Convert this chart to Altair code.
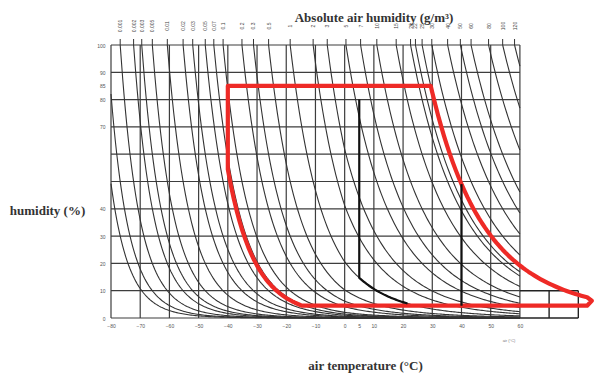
import numpy as np
import pandas as pd
import altair as alt

# ---- data ----
# absolute humidity isolines (g/m3) labelled along the top
ah_values = [0.0003, 0.0005, 0.001, 0.002, 0.003, 0.005, 0.01, 0.02, 0.03, 0.05,
             0.07, 0.1, 0.2, 0.3, 0.5, 1, 2, 3, 5, 7, 10, 15, 20, 22, 25, 30,
             40, 50, 60, 80, 100, 120]
x_ticks = [-80, -70, -60, -50, -40, -30, -20, -10, 0, 5, 10, 20, 30, 40, 50, 60]
x_grid = [-80, -70, -60, -50, -40, -30, -20, -10, 0, 10, 20, 30, 40, 50, 60]
y_ticks = [0, 10, 20, 30, 40, 70, 80, 85, 90, 100]
y_grid = [0, 10, 20, 30, 40, 50, 60, 70, 80, 90, 100]

# red operating envelope
red_top_rh = 85
red_left_t = -40
red_bottom_rh = 4.5
red_right_ah = 25      # isoline followed on the right side
red_left_ah = 0.065    # isoline followed on the lower-left side
red_right_end_t = 83

# black markers
black1_t, black1_top_rh, black1_ah = 5, 80, 1
black2_t = 40

# extension box beyond 60 degC: (x, x2, y, y2)
box_x = [60, 60, 70, 80]
box_x2 = [80, 80, 70, 80]
box_y = [10, 0, 0, 0]
box_y2 = [10, 0, 10, 10]


def sat_ah(t):
    t = np.asarray(t, dtype=float)
    e = np.where(t < 0, 6.112 * np.exp(22.46 * t / (272.62 + t)),
                 6.112 * np.exp(17.62 * t / (243.12 + t)))
    return 216.7 * e / (273.15 + t)


def t_at(ah, rh):
    target = ah * 100.0 / rh
    lo, hi = -120.0, 120.0
    for _ in range(60):
        mid = (lo + hi) / 2
        if sat_ah(mid) < target:
            lo = mid
        else:
            hi = mid
    return (lo + hi) / 2


# isolines
rows, lab = [], []
for i, ah in enumerate(ah_values):
    t0 = t_at(ah, 100)
    start = max(t0, -80)
    ts = np.concatenate([[start], np.arange(np.ceil(start * 2) / 2 + 0.5, 60.001, 0.5)])
    rh = 100 * ah / sat_ah(ts)
    for k, (t, r) in enumerate(zip(ts, rh)):
        rows.append({"curve": i, "T": float(t), "RH": float(min(r, 100)), "o": k})
    if t0 >= -80:
        lab.append({"T": t0, "label": f"{ah:g}"})
curves = pd.DataFrame(rows)
labels = pd.DataFrame(lab)

# red path
pts = [(red_left_t, red_top_rh)]
t85 = t_at(red_right_ah, red_top_rh)
for t in np.concatenate([[t85], np.arange(np.ceil(t85), red_right_end_t + 0.01, 1.0)]):
    pts.append((float(t), float(100 * red_right_ah / sat_ah(t))))
pts.append((red_right_end_t + 1.6, red_bottom_rh + 1.8))
pts.append((red_right_end_t, red_bottom_rh))
tl = t_at(red_left_ah, red_bottom_rh)
pts.append((tl, red_bottom_rh))
for t in np.arange(np.floor(tl), red_left_t - 0.01, -1.0):
    pts.append((float(t), float(100 * red_left_ah / sat_ah(t))))
pts.append((red_left_t, red_top_rh))
red = pd.DataFrame([{"T": a, "RH": b, "o": k} for k, (a, b) in enumerate(pts)])

# black paths
b = [{"g": 0, "T": black1_t, "RH": black1_top_rh, "o": 0}]
tend = t_at(black1_ah, 5.2)
for k, t in enumerate(np.arange(black1_t, tend + 0.01, 0.5)):
    b.append({"g": 0, "T": float(t), "RH": float(100 * black1_ah / sat_ah(t)), "o": k + 1})
b.append({"g": 1, "T": black2_t, "RH": float(100 * red_right_ah / sat_ah(black2_t)), "o": 0})
b.append({"g": 1, "T": black2_t, "RH": red_bottom_rh, "o": 1})
black = pd.DataFrame(b)

xs = alt.Scale(domain=[-80, 84], nice=False, zero=False)
ys = alt.Scale(domain=[0, 100], nice=False, zero=False)
GRID = "#3d3d3d"

x_axis = alt.Axis(values=x_ticks, grid=False, domain=False, ticks=False,
                  labelPadding=5, labelFlush=False,
                  title="air temperature (°C)",
                  titleX=254, titleY=47, titleAnchor="middle", titleBaseline="middle")
y_axis = alt.Axis(values=y_ticks, grid=False, domain=False, ticks=False,
                  labelPadding=6, labelFlush=False,
                  title="humidity (%)", titleAngle=0,
                  titleX=-64, titleY=165, titleAlign="center", titleBaseline="middle")

vgrid = alt.Chart(pd.DataFrame({"T": x_grid})).mark_rule(color=GRID, strokeWidth=1.2).encode(
    x=alt.X("T:Q", scale=xs, axis=x_axis), y=alt.datum(0, scale=ys, axis=y_axis), y2=alt.datum(100))
hgrid = alt.Chart(pd.DataFrame({"RH": y_grid})).mark_rule(color=GRID, strokeWidth=1.2).encode(
    y=alt.Y("RH:Q", scale=ys, axis=y_axis), x=alt.datum(-80, axis=x_axis), x2=alt.datum(60))
box = alt.Chart(pd.DataFrame({"x": box_x, "x2": box_x2, "y": box_y, "y2": box_y2})).mark_rule(
    color="#222", strokeWidth=1.4).encode(x=alt.X("x:Q", axis=x_axis), x2="x2:Q",
                                          y=alt.Y("y:Q", axis=y_axis), y2="y2:Q")
lines = alt.Chart(curves).mark_line(color="#333", strokeWidth=1.1).encode(
    x=alt.X("T:Q", axis=x_axis), y=alt.Y("RH:Q", axis=y_axis), detail="curve:N", order="o:Q")
topticks = alt.Chart(labels).mark_rule(color="#333", strokeWidth=1).encode(
    x=alt.X("T:Q", axis=x_axis), y=alt.value(-6), y2=alt.value(0))
toplab = alt.Chart(labels).mark_text(angle=270, fontSize=5, color="#444", align="center",
                                     baseline="middle").encode(
    x=alt.X("T:Q", axis=x_axis), y=alt.value(-19), text="label:N")
redl = alt.Chart(red).mark_line(color="#ee2a26", strokeWidth=4.2, strokeJoin="round",
                                strokeCap="round").encode(
    x=alt.X("T:Q", axis=x_axis), y=alt.Y("RH:Q", axis=y_axis), order="o:Q")
blackl = alt.Chart(black).mark_line(color="#111", strokeWidth=2.2).encode(
    x=alt.X("T:Q", axis=x_axis), y=alt.Y("RH:Q", axis=y_axis), detail="g:N", order="o:Q")
title = alt.Chart(pd.DataFrame({"t": ["Absolute air humidity (g/m³)"]})).mark_text(
    font="Liberation Serif", fontSize=13, fontWeight="bold", color="#333", baseline="middle").encode(
    x=alt.value(263), y=alt.value(-27), text="t:N")
small = alt.Chart(pd.DataFrame({"t": ["air (°C)"]})).mark_text(
    fontSize=4, color="#777").encode(x=alt.value(398), y=alt.value(296), text="t:N")

chart = alt.layer(vgrid, hgrid, box, lines, topticks, toplab, redl, blackl, title, small).properties(
    width=479, height=273,
    autosize=alt.AutoSizeParams(type="none"),
    padding={"left": 111, "top": 45, "right": 5, "bottom": 58},
    background="white",
).configure_view(stroke=None).configure_axis(
    labelOverlap=False, labelFontSize=5, labelColor="#555",
    titleFont="Liberation Serif", titleFontSize=13, titleFontWeight="bold", titleColor="#333",
)

chart.save("out.html", embed_options={"renderer": "svg", "actions": False})
